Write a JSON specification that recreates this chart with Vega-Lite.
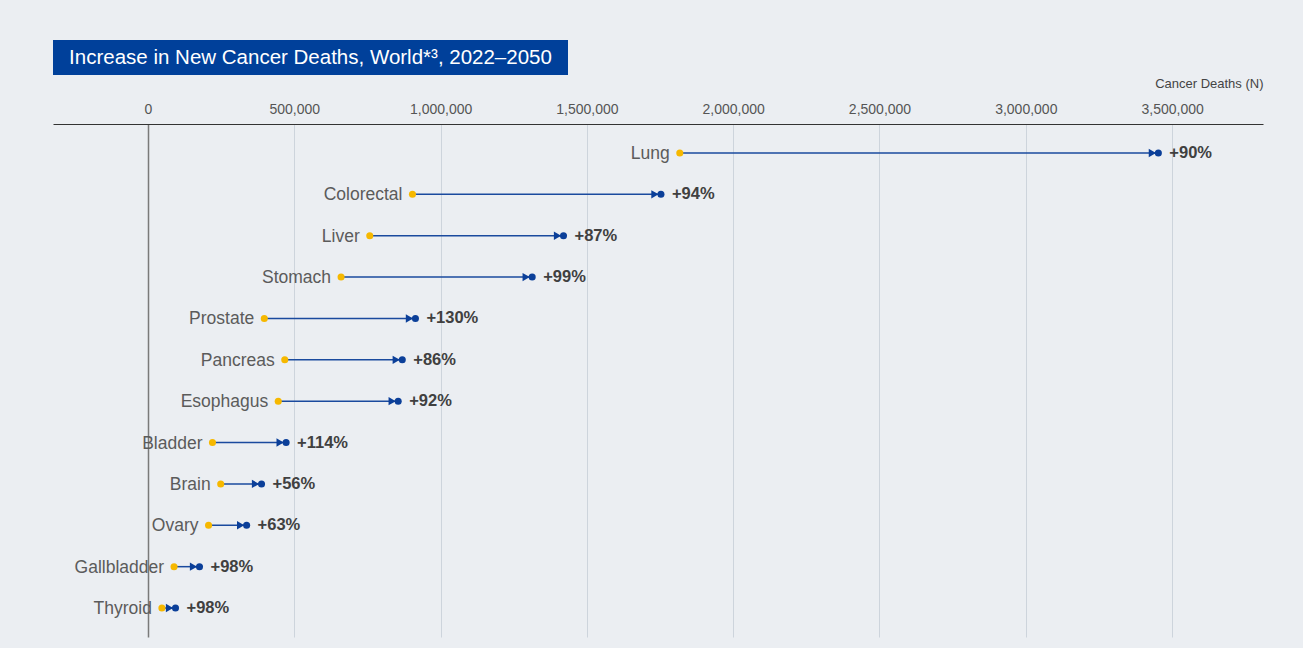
{
  "$schema": "https://vega.github.io/schema/vega-lite/v6.json",
  "background": "#ebeef2",
  "padding": {"left": 53, "top": 40, "right": 40, "bottom": 11},
  "spacing": 2,
  "config": {
    "view": {"stroke": null},
    "font": "Liberation Sans"
  },
  "vconcat": [
    {
      "width": 515,
      "height": 35,
      "view": {"fill": "#00409a", "stroke": null},
      "data": {"values": [{"title": "Increase in New Cancer Deaths, World*³, 2022–2050"}]},
      "mark": {"type": "text", "color": "#ffffff", "fontSize": 20.5, "align": "center", "baseline": "middle"},
      "encoding": {"text": {"field": "title", "type": "nominal"}}
    },
    {
      "width": 1210,
      "height": 513,
      "data": {
        "values": [
          {"cancer": "Lung", "d2022": 1817469, "d2050": 3453000, "pct": "+90%"},
          {"cancer": "Colorectal", "d2022": 903859, "d2050": 1753000, "pct": "+94%"},
          {"cancer": "Liver", "d2022": 757948, "d2050": 1420000, "pct": "+87%"},
          {"cancer": "Stomach", "d2022": 659853, "d2050": 1313000, "pct": "+99%"},
          {"cancer": "Prostate", "d2022": 397430, "d2050": 914000, "pct": "+130%"},
          {"cancer": "Pancreas", "d2022": 467409, "d2050": 869000, "pct": "+86%"},
          {"cancer": "Esophagus", "d2022": 445129, "d2050": 855000, "pct": "+92%"},
          {"cancer": "Bladder", "d2022": 220349, "d2050": 472000, "pct": "+114%"},
          {"cancer": "Brain", "d2022": 248500, "d2050": 388000, "pct": "+56%"},
          {"cancer": "Ovary", "d2022": 206956, "d2050": 337000, "pct": "+63%"},
          {"cancer": "Gallbladder", "d2022": 89055, "d2050": 176000, "pct": "+98%"},
          {"cancer": "Thyroid", "d2022": 47507, "d2050": 94000, "pct": "+98%"}
        ]
      },
      "encoding": {
        "y": {"field": "cancer", "type": "nominal", "sort": null, "scale": {"type": "point", "padding": 0.7}, "axis": null}
      },
      "layer": [
        {
          "mark": {"type": "rule", "color": "#1a4a9e", "strokeWidth": 1.5},
          "encoding": {
            "x": {
              "field": "d2022", "type": "quantitative",
              "scale": {"domain": [-324675, 3810663], "nice": false, "zero": false},
              "axis": {
                "orient": "top",
                "values": [0, 500000, 1000000, 1500000, 2000000, 2500000, 3000000, 3500000],
                "format": ",d",
                "labelFontSize": 14,
                "labelColor": "#555555",
                "labelPadding": 8,
                "ticks": false,
                "tickSize": 0,
                "domainColor": "#333333",
                "domainWidth": 1,
                "grid": true,
                "gridColor": {"condition": {"test": "datum.value === 0", "value": "#7a7a7a"}, "value": "#cdd4dc"},
                "gridWidth": {"condition": {"test": "datum.value === 0", "value": 1.5}, "value": 1},
                "title": "Cancer Deaths (N)",
                "titleFontSize": 13,
                "titleFontWeight": "normal",
                "titleColor": "#444444",
                "titleAnchor": "end",
                "titleAlign": "right",
                "titleBaseline": "alphabetic",
                "titleX": 1210,
                "titleY": -37
              }
            },
            "x2": {"field": "d2050"}
          }
        },
        {
          "mark": {"type": "point", "shape": "triangle-right", "filled": true, "opacity": 1, "color": "#0b3f99", "size": 70, "xOffset": -6},
          "encoding": {"x": {"field": "d2050", "type": "quantitative"}}
        },
        {
          "mark": {"type": "circle", "opacity": 1, "color": "#f6b800", "size": 50},
          "encoding": {"x": {"field": "d2022", "type": "quantitative"}}
        },
        {
          "mark": {"type": "circle", "opacity": 1, "color": "#0b3f99", "size": 50},
          "encoding": {"x": {"field": "d2050", "type": "quantitative"}}
        },
        {
          "mark": {"type": "text", "align": "right", "baseline": "middle", "dx": -10, "dy": 1, "fontSize": 17.5, "color": "#5b5b5b"},
          "encoding": {"x": {"field": "d2022", "type": "quantitative"}, "text": {"field": "cancer", "type": "nominal"}}
        },
        {
          "mark": {"type": "text", "align": "left", "baseline": "middle", "dx": 11, "fontSize": 16.5, "fontWeight": "bold", "color": "#404040"},
          "encoding": {"x": {"field": "d2050", "type": "quantitative"}, "text": {"field": "pct", "type": "nominal"}}
        }
      ]
    }
  ]
}
